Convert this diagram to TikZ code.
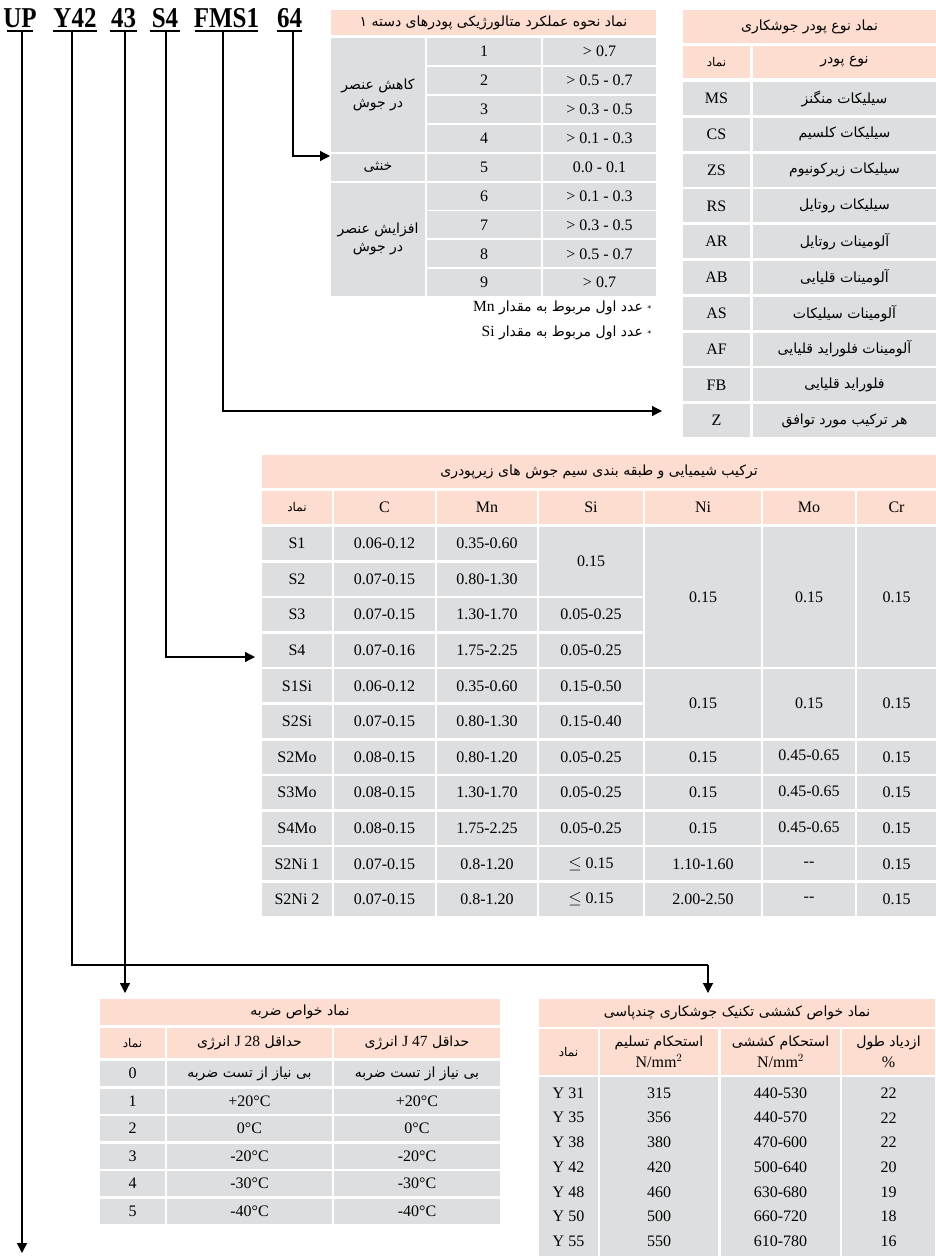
\documentclass[tikz,border=0pt]{standalone}
\usepackage{fontspec}
\setmainfont{Liberation Serif}
\newfontfamily\fa[Script=Arabic]{DejaVu Sans}
\TeXXeTstate=1
\usetikzlibrary{arrows.meta}
\definecolor{hdr}{RGB}{253,221,208}
\definecolor{cel}{RGB}{221,222,224}
\newcommand\FA[1]{{\fa\fontsize{14}{18}\selectfont\beginR #1\endR}}
\newcommand\FAs[1]{{\fa\fontsize{12}{17}\selectfont\beginR #1\endR}}
\newcommand\LT[1]{\beginL{\normalfont\fontsize{15.5}{17}\selectfont #1}\endL}
% name, x1, y1, x2, y2, colour, text
\newcommand\cellbox[7]{%
  \fill[#6] ({#2},{#3}) rectangle ({#4},{#5});
  \node[celltext] (#1) at ({((#2)+(#4))/2},{((#3)+(#5))/2}) {#7};}
% middle table cell: name, x1, x2, first row, last row, text
\newcommand\mcell[6]{\cellbox{#1}{#2}{527+(#4-1)*35.6}{#3}{527+(#5-1)*35.6+33}{cel}{#6}}
\begin{document}
\begin{tikzpicture}[x=1pt,y=-1pt,line width=1.3pt,
  arr/.style={-{Triangle[length=10pt,width=10pt]}},
  celltext/.style={inner sep=0pt,font=\fontsize{16}{18}\selectfont,align=center},
  code/.style={inner sep=0pt,anchor=base,font=\fontsize{25}{25}\selectfont\bfseries},
  note/.style={inner sep=0pt,anchor=east}]
\useasboundingbox (0,0) rectangle (936,1256);

% ---------- code ----------
\node[code] (cUP) at (20,27) {\scalebox{1}[1.15]{UP}};
\node[code] (cY) at (75,27) {\scalebox{1}[1.15]{Y42}};
\node[code] (c43) at (123.5,27) {\scalebox{1}[1.15]{43}};
\node[code] (cS) at (165,27) {\scalebox{1}[1.15]{S4}};
\node[code] (cF) at (226.5,27) {\scalebox{1}[1.15]{FMS1}};
\node[code] (c64) at (289.5,27) {\scalebox{1}[1.15]{64}};
\draw (7,31) -- (33,31);
\draw (53,31) -- (97,31);
\draw (110,31) -- (137,31);
\draw (150,31) -- (180,31);
\draw (195,31) -- (258,31);
\draw (277,31) -- (302,31);
\coordinate (uUP) at (22,31);
\coordinate (uY) at (72,31);
\coordinate (u43) at (125,31);
\coordinate (uS) at (166,31);
\coordinate (uF) at (223,31);
\coordinate (u64) at (293,31);

% ---------- table 1 : metallurgical behaviour ----------
\cellbox{t1h}{331}{10}{656}{35}{hdr}{\FA{نماد نحوه عملکرد متالورژیکی پودرهای دسته ۱}}
\foreach \i/\v in {1/{> 0.7},2/{> 0.5 - 0.7},3/{> 0.3 - 0.5},4/{> 0.1 - 0.3},5/{0.0 - 0.1},6/{> 0.1 - 0.3},7/{> 0.3 - 0.5},8/{> 0.5 - 0.7},9/{> 0.7}}{
  \cellbox{t1n\i}{427}{38+(\i-1)*28.9}{541}{38+(\i-1)*28.9+27}{cel}{\i}
  \cellbox{t1v\i}{543}{38+(\i-1)*28.9}{656}{38+(\i-1)*28.9+27}{cel}{\v}
}
\cellbox{t1a}{331}{38}{425}{38+3*28.9+27}{cel}{\FA{کاهش عنصر}\\\FA{در جوش}}
\cellbox{t1b}{331}{38+4*28.9}{425}{38+4*28.9+27}{cel}{\FA{خنثی}}
\cellbox{t1c}{331}{38+5*28.9}{425}{38+8*28.9+27}{cel}{\FA{افزایش عنصر}\\\FA{در جوش}}
\node[note] (n1) at (652,308) {\FA{{\fontsize{8}{8}\selectfont *} عدد اول مربوط به مقدار \LT{Mn}}};
\node[note] (n2) at (652,333) {\FA{{\fontsize{8}{8}\selectfont *} عدد اول مربوط به مقدار \LT{Si}}};

% ---------- table 2 : flux type ----------
\cellbox{t2h}{683}{10}{936}{43}{hdr}{\FA{نماد نوع پودر جوشکاری}}
\cellbox{t2ha}{683}{46}{750}{78}{hdr}{\FAs{نماد}}
\cellbox{t2hb}{753}{46}{936}{78}{hdr}{\FA{نوع پودر}}
\foreach \i/\s/\t in {1/MS/سیلیکات منگنز,2/CS/سیلیکات کلسیم,3/ZS/سیلیکات زیرکونیوم,4/RS/سیلیکات روتایل,5/AR/آلومینات روتایل,6/AB/آلومینات قلیایی,7/AS/آلومینات سیلیکات,8/AF/آلومینات فلوراید قلیایی,9/FB/فلوراید قلیایی,10/Z/هر ترکیب مورد توافق}{
  \cellbox{t2s\i}{683}{82+(\i-1)*35.8}{750}{82+(\i-1)*35.8+33}{cel}{\s}
  \cellbox{t2t\i}{753}{82+(\i-1)*35.8}{936}{82+(\i-1)*35.8+33}{cel}{\FA{\t}}
}

% ---------- table 3 : wire composition ----------
\cellbox{t3h}{262}{455}{936}{488}{hdr}{\FA{ترکیب شیمیایی و طبقه بندی سیم جوش های زیرپودری}}
\cellbox{t3ha}{262}{491}{332}{524}{hdr}{\FAs{نماد}}
\cellbox{t3hb}{334}{491}{435}{524}{hdr}{C}
\cellbox{t3hc}{437}{491}{537}{524}{hdr}{Mn}
\cellbox{t3hd}{539}{491}{643}{524}{hdr}{Si}
\cellbox{t3he}{645}{491}{761}{524}{hdr}{Ni}
\cellbox{t3hf}{763}{491}{855}{524}{hdr}{Mo}
\cellbox{t3hg}{857}{491}{936}{524}{hdr}{Cr}
\foreach \i/\s/\c/\m in {1/S1/0.06-0.12/0.35-0.60,2/S2/0.07-0.15/0.80-1.30,3/S3/0.07-0.15/1.30-1.70,4/S4/0.07-0.16/1.75-2.25,5/S1Si/0.06-0.12/0.35-0.60,6/S2Si/0.07-0.15/0.80-1.30,7/S2Mo/0.08-0.15/0.80-1.20,8/S3Mo/0.08-0.15/1.30-1.70,9/S4Mo/0.08-0.15/1.75-2.25,10/S2Ni 1/0.07-0.15/0.8-1.20,11/S2Ni 2/0.07-0.15/0.8-1.20}{
  \mcell{t3s\i}{262}{332}{\i}{\i}{\s}
  \mcell{t3c\i}{334}{435}{\i}{\i}{\c}
  \mcell{t3m\i}{437}{537}{\i}{\i}{\m}
}
\mcell{t3si1}{539}{643}{1}{2}{0.15}
\mcell{t3si3}{539}{643}{3}{3}{0.05-0.25}
\mcell{t3si4}{539}{643}{4}{4}{0.05-0.25}
\mcell{t3si5}{539}{643}{5}{5}{0.15-0.50}
\mcell{t3si6}{539}{643}{6}{6}{0.15-0.40}
\mcell{t3ni1}{645}{761}{1}{4}{0.15}
\mcell{t3mo1}{763}{855}{1}{4}{0.15}
\mcell{t3cr1}{857}{936}{1}{4}{0.15}
\mcell{t3ni5}{645}{761}{5}{6}{0.15}
\mcell{t3mo5}{763}{855}{5}{6}{0.15}
\mcell{t3cr5}{857}{936}{5}{6}{0.15}
\foreach \i in {7,8,9}{
  \mcell{t3si\i}{539}{643}{\i}{\i}{0.05-0.25}
  \mcell{t3ni\i}{645}{761}{\i}{\i}{0.15}
  \mcell{t3mo\i}{763}{855}{\i}{\i}{\raisebox{3pt}{0.45-0.65}}
  \mcell{t3cr\i}{857}{936}{\i}{\i}{\raisebox{-3pt}{0.15}}
}
\mcell{t3si10}{539}{643}{10}{10}{$\leq$ 0.15}
\mcell{t3ni10}{645}{761}{10}{10}{1.10-1.60}
\mcell{t3mo10}{763}{855}{10}{10}{{-}{-}}
\mcell{t3cr10}{857}{936}{10}{10}{0.15}
\mcell{t3si11}{539}{643}{11}{11}{$\leq$ 0.15}
\mcell{t3ni11}{645}{761}{11}{11}{2.00-2.50}
\mcell{t3mo11}{763}{855}{11}{11}{{-}{-}}
\mcell{t3cr11}{857}{936}{11}{11}{0.15}

% ---------- table 4 : impact ----------
\cellbox{t4h}{100}{999}{500}{1025}{hdr}{\FA{نماد خواص ضربه}}
\cellbox{t4ha}{100}{1028}{165}{1058}{hdr}{\FAs{نماد}}
\cellbox{t4hb}{167}{1028}{332}{1058}{hdr}{\FA{حداقل \LT{J 28} انرژی}}
\cellbox{t4hc}{334}{1028}{500}{1058}{hdr}{\FA{حداقل \LT{J 47} انرژی}}
\foreach \i/\a in {0/{\FA{بی نیاز از تست ضربه}},1/+20°C,2/0°C,3/-20°C,4/-30°C,5/-40°C}{
  \cellbox{t4s\i}{100}{1061+\i*27.5}{165}{1061+\i*27.5+25}{cel}{\i}
  \cellbox{t4a\i}{167}{1061+\i*27.5}{332}{1061+\i*27.5+25}{cel}{\a}
  \cellbox{t4b\i}{334}{1061+\i*27.5}{500}{1061+\i*27.5+25}{cel}{\a}
}

% ---------- table 5 : tensile ----------
\cellbox{t5h}{539}{999}{935}{1027}{hdr}{\FA{نماد خواص کششی تکنیک جوشکاری چندپاسی}}
\cellbox{t5ha}{539}{1029}{598}{1075}{hdr}{\FAs{نماد}}
\cellbox{t5hb}{600}{1029}{718}{1075}{hdr}{\FA{استحکام تسلیم}\\[3pt]N/mm$^2$}
\cellbox{t5hc}{721}{1029}{840}{1075}{hdr}{\FA{استحکام کششی}\\[3pt]N/mm$^2$}
\cellbox{t5hd}{842}{1029}{935}{1075}{hdr}{\FA{ازدیاد طول}\\[3pt]\%}
\fill[cel] (539,1077) rectangle (598,1256);
\fill[cel] (600,1077) rectangle (718,1256);
\fill[cel] (721,1077) rectangle (840,1256);
\fill[cel] (842,1077) rectangle (935,1256);
\foreach \i/\s/\y/\t/\e in {0/Y 31/315/440-530/22,1/Y 35/356/440-570/22,2/Y 38/380/470-600/22,3/Y 42/420/500-640/20,4/Y 48/460/630-680/19,5/Y 50/500/660-720/18,6/Y 55/550/610-780/16}{
  \node[celltext] (t5s\i) at (568.5,1093+\i*24.7) {\s};
  \node[celltext] (t5y\i) at (659,1093+\i*24.7) {\y};
  \node[celltext] (t5t\i) at (780.5,1093+\i*24.7) {\t};
  \node[celltext] (t5e\i) at (888.5,1093+\i*24.7) {\e};
}

% ---------- connectors ----------
\coordinate (a64) at (330,156);
\coordinate (aF) at (662,411);
\coordinate (aS) at (255,657);
\coordinate (a43) at (125,993);
\coordinate (kY) at (708,965);
\coordinate (aY) at (708,993);
\coordinate (aUP) at (22,1253);
\draw[arr] (u64) |- (a64);
\draw[arr] (uF) |- (aF);
\draw[arr] (uS) |- (aS);
\draw[arr] (u43) -- (a43);
\draw (uY) |- (kY);
\draw[arr] (kY) -- (aY);
\draw[arr] (uUP) -- (aUP);
\end{tikzpicture}
\end{document}
